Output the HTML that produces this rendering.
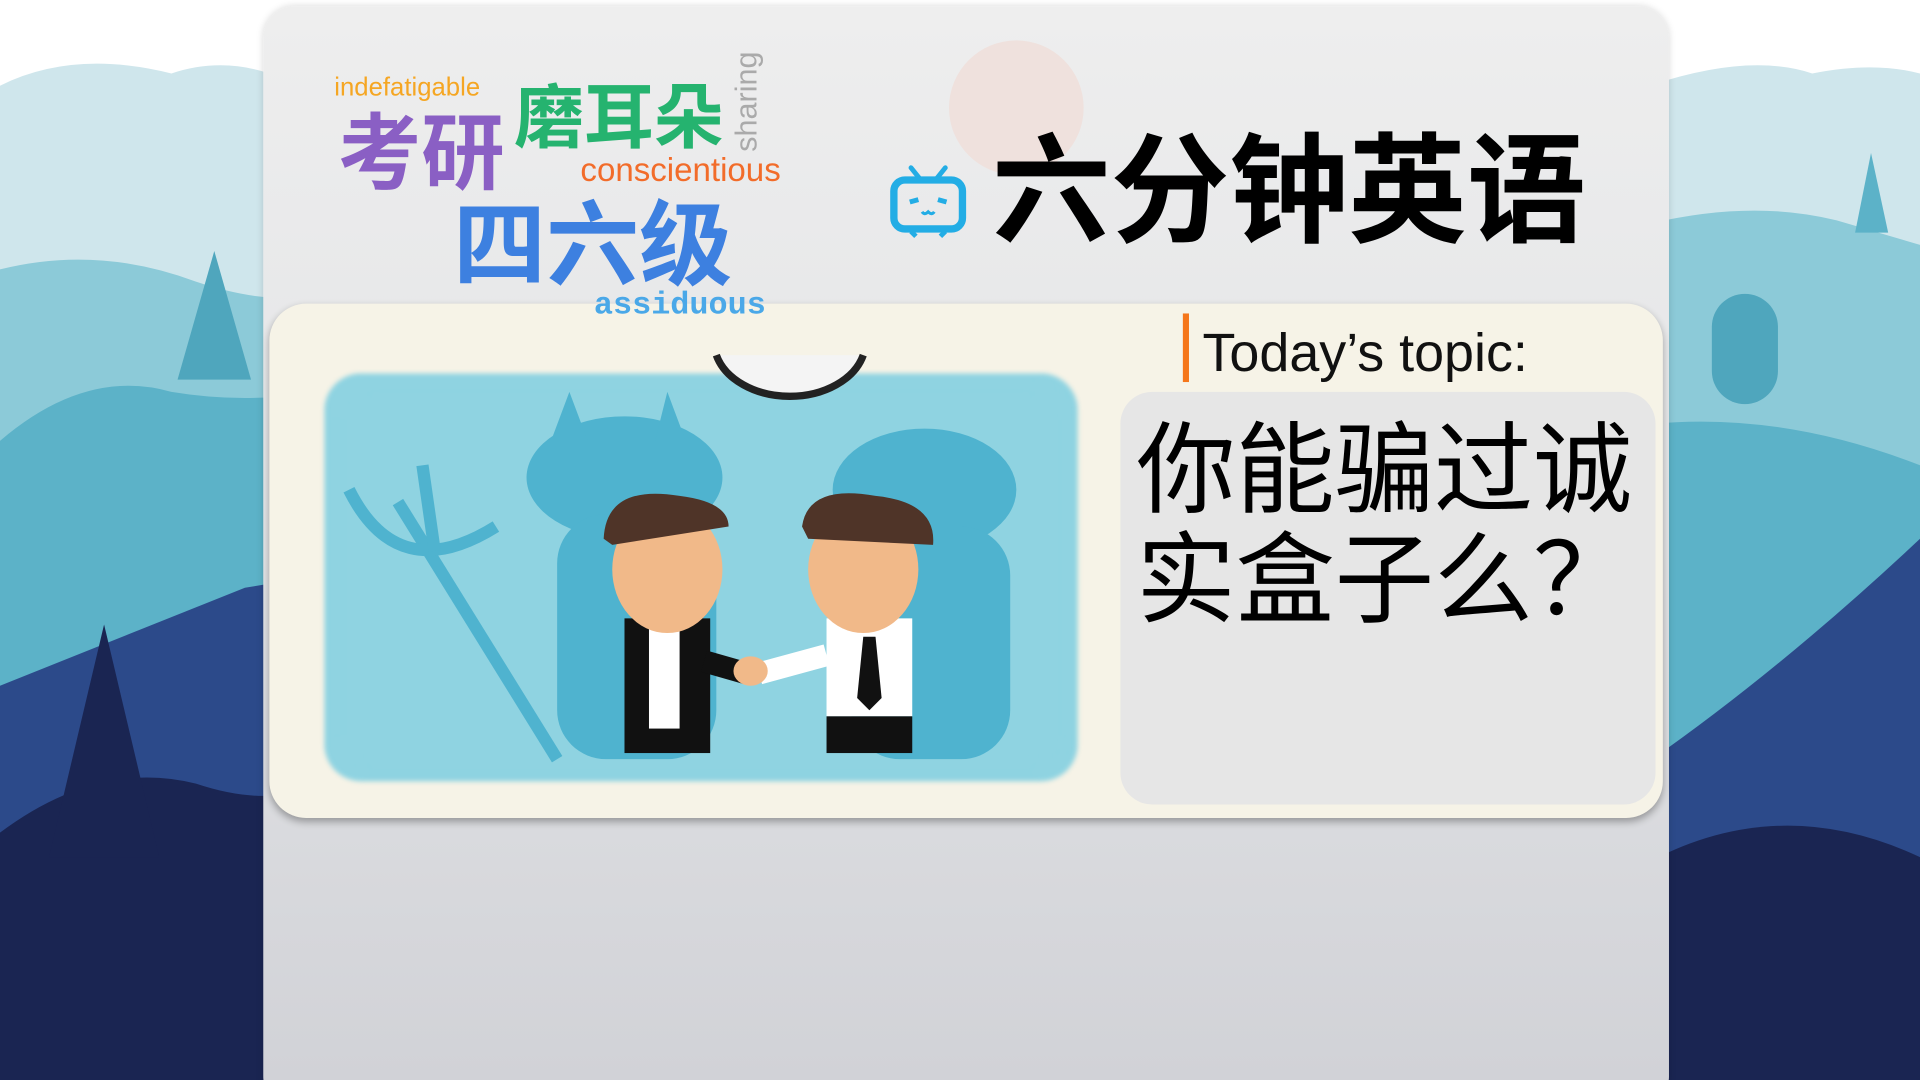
<!DOCTYPE html>
<html><head><meta charset="utf-8"><style>
html,body{margin:0;padding:0;width:1920px;height:1080px;overflow:hidden;background:#fff}
#s{position:absolute;left:0;top:0;width:1568px;height:882px;transform:scale(1.22449);transform-origin:0 0;overflow:hidden;font-family:"Liberation Sans","Noto Sans CJK SC",sans-serif}
.a{position:absolute;white-space:nowrap}
</style></head><body>
<div id="s">
<svg class="a" style="left:0;top:0" width="1568" height="882">
<path d="M0 70 Q60 40 140 60 Q200 40 260 80 L260 882 L0 882Z" fill="#cfe6ec"/>
<path d="M0 220 Q80 200 160 230 Q220 250 260 240 L260 882 L0 882Z" fill="#8ccad8"/>
<path d="M0 360 Q70 300 140 320 Q200 330 260 320 L260 882 L0 882Z" fill="#5cb2c8"/>
<path d="M0 560 Q100 520 200 480 L260 470 L260 882 L0 882Z" fill="#2c4a8a"/>
<path d="M0 680 Q80 620 160 640 Q220 660 260 640 L260 882 L0 882Z" fill="#1a2552"/>
<polygon points="85,510 40,700 130,700" fill="#1a2552"/>
<polygon points="175,205 145,310 205,310" fill="#4fa6bd"/>
<path d="M1320 80 Q1420 40 1480 60 Q1530 50 1568 60 L1568 882 L1320 882Z" fill="#cfe6ec"/>
<path d="M1320 190 Q1420 160 1500 180 L1568 200 L1568 882 L1320 882Z" fill="#8ccad8"/>
<path d="M1320 350 Q1440 330 1568 380 L1568 882 L1320 882Z" fill="#5cb2c8"/>
<path d="M1320 640 Q1440 560 1568 440 L1568 882 L1320 882Z" fill="#2c4a8a"/>
<path d="M1320 720 Q1440 640 1568 700 L1568 882 L1320 882Z" fill="#1a2552"/>
<rect x="1398" y="240" width="54" height="90" rx="27" fill="#4fa6bd"/>
<polygon points="1528,125 1515,190 1542,190" fill="#5cb2c8"/>
</svg>
<div class="a" style="left:215px;top:5px;width:1148px;height:900px;border-radius:26px;background:linear-gradient(#eeeeee,#e4e5e7 45%,#d0d1d6);box-shadow:0 0 6px rgba(0,0,0,.15)"></div>
<div class="a" style="left:775px;top:33px;width:110px;height:110px;border-radius:50%;background:#efe1dd"></div>
<svg class="a" style="left:726px;top:133px" width="64" height="62">
<line x1="18" y1="4" x2="26" y2="14" stroke="#23ade5" stroke-width="4" stroke-linecap="round"/>
<line x1="46" y1="4" x2="38" y2="14" stroke="#23ade5" stroke-width="4" stroke-linecap="round"/>
<rect x="4" y="14" width="56" height="40" rx="9" fill="none" stroke="#23ade5" stroke-width="6"/>
<line x1="17" y1="32" x2="24" y2="30" stroke="#23ade5" stroke-width="4"/><line x1="40" y1="30" x2="47" y2="32" stroke="#23ade5" stroke-width="4"/>
<path d="M27 40 q2 3 5 0 q3 3 5 0" fill="none" stroke="#23ade5" stroke-width="2.5"/>
<line x1="18" y1="56" x2="22" y2="60" stroke="#23ade5" stroke-width="4"/><line x1="46" y1="56" x2="42" y2="60" stroke="#23ade5" stroke-width="4"/>
</svg>
<div class="a" style="left:810px;top:100px;font-size:97px;line-height:114px;font-weight:bold;color:#000">六分钟英语</div>
<div class="a" style="left:220px;top:248px;width:1138px;height:420px;border-radius:30px;background:#f6f3e7;box-shadow:0 3px 6px rgba(0,0,0,.3)"></div>
<div class="a" style="left:265px;top:305px;width:615px;height:333px;border-radius:30px;background:#8fd3e1;box-shadow:0 0 14px 8px #8fd3e1 inset;filter:blur(2px)"></div>
<svg class="a" style="left:265px;top:280px" width="615" height="360">
<path d="M320 10 A62 45 0 0 0 440 10" fill="#f4f4f4" stroke="#222" stroke-width="6"/>
<g fill="#4fb3cf">
<ellipse cx="245" cy="110" rx="80" ry="50"/><rect x="190" y="140" width="130" height="200" rx="40"/>
<ellipse cx="490" cy="120" rx="75" ry="50"/><rect x="430" y="150" width="130" height="190" rx="40"/>
<polygon points="200,40 215,80 185,80"/><polygon points="280,40 270,80 295,80"/>
</g>
<g stroke="#4fb3cf" stroke-width="10" fill="none"><line x1="60" y1="130" x2="190" y2="340"/><path d="M20 120 Q60 200 140 150"/><line x1="80" y1="100" x2="90" y2="170"/></g>
<rect x="245" y="225" width="70" height="110" fill="#111"/><rect x="265" y="225" width="25" height="90" fill="#fff"/>
<rect x="410" y="225" width="70" height="80" fill="#fff"/><rect x="410" y="305" width="70" height="30" fill="#111"/>
<polygon points="440,240 450,240 455,290 445,300 435,290" fill="#111"/>
<ellipse cx="280" cy="185" rx="45" ry="52" fill="#f1b989"/><path d="M228 160 Q230 115 290 125 Q330 130 330 150 L235 165Z" fill="#4f3428"/>
<ellipse cx="440" cy="185" rx="45" ry="52" fill="#f1b989"/><path d="M390 150 Q395 115 450 125 Q500 130 497 165 L395 160Z" fill="#4f3428"/>
<path d="M310 260 L345 270" stroke="#111" stroke-width="18"/><path d="M355 270 L410 255" stroke="#fff" stroke-width="18"/>
<ellipse cx="348" cy="268" rx="14" ry="12" fill="#f1b989"/>
</svg>
<div class="a" style="left:273px;top:60px;font-size:21px;color:#f5a623">indefatigable</div>
<div class="a" style="left:276px;top:86px;font-size:68px;line-height:80px;color:#8a5fc4;font-weight:bold">考研</div>
<div class="a" style="left:420px;top:64px;font-size:57px;line-height:66px;color:#25b36f;font-weight:bold">磨耳朵</div>
<div class="a" style="left:596px;top:124px;font-size:25px;color:#aaa;transform:rotate(-90deg);transform-origin:0 0">sharing</div>
<div class="a" style="left:474px;top:124px;font-size:27px;color:#f26c2a">conscientious</div>
<div class="a" style="left:370px;top:160px;font-size:76px;line-height:84px;color:#3d80e0;font-weight:bold">四六级</div>
<div class="a" style="left:485px;top:234px;font-size:26px;color:#4aa8e8;font-family:'Liberation Mono',monospace;font-weight:bold">assiduous</div>
<div class="a" style="left:966px;top:256px;width:5px;height:56px;background:#f5761a"></div>
<div class="a" style="left:982px;top:264px;font-size:44px;color:#111">Today’s topic:</div>
<div class="a" style="left:915px;top:320px;width:437px;height:337px;border-radius:26px;background:#e6e6e6"></div>
<div class="a" style="left:928px;top:340px;font-size:81px;line-height:90px;color:#000;white-space:normal;width:430px">你能骗过诚<br>实盒子么？</div>
</div>
</body></html>
